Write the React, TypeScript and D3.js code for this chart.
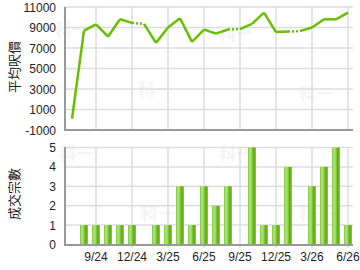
import React from "react";
import * as d3 from "d3";

const months = ["7/24","8/24","9/24","10/24","11/24","12/24","1/25","2/25","3/25","4/25","5/25","6/25","7/25","8/25","9/25","10/25","11/25","12/25","1/26","2/26","3/26","4/26","5/26","6/26"];
const avgPrice = [100,8700,9300,8100,9800,9450,9350,7500,9000,9900,7600,8800,8400,8800,8850,9350,10450,8550,8600,8650,9000,9800,9800,10450];
const deals = [0,1,1,1,1,1,0,1,1,3,1,3,2,3,0,5,1,1,4,0,3,4,5,1];
const xTickLabels = ["9/24","12/24","3/25","6/25","9/25","12/25","3/26","6/26"];
const priceTicks = [-1000,1000,3000,5000,7000,9000,11000];
const dealTicks = [0,1,2,3,4,5];

const W = 360, H = 270;
const L = 65, R = 353;

export default function App() {
  const x = d3.scalePoint<string>().domain(months).range([72, 348]);
  const yTop = d3.scaleLinear().domain([-1000, 11000]).range([130, 7]);
  const yBot = d3.scaleLinear().domain([0, 5]).range([244.5, 147.5]);
  const font = "'Liberation Sans', Arial, sans-serif";
  const cjk = "'Noto Sans CJK TC', 'Noto Sans CJK SC', sans-serif";
  const grid = "#dddddd";
  const axis = "#999999";
  const segIdx = avgPrice.slice(1).map((_, k) => k + 1);
  const segPath = (i: number) => {
    const x0 = x(months[i - 1])!, x1 = x(months[i])!;
    return `M${x0},${yTop(avgPrice[i - 1])}L${x1},${yTop(avgPrice[i])}`;
  };
  const watermarks = [[72, 36], [155, 96], [236, 40], [316, 100], [76, 160], [158, 220], [236, 160], [316, 220]];
  return (
    <svg width={W} height={H} style={{ position: "absolute", left: 0, top: 0, background: "#fff" }}>
      <defs>
        <linearGradient id="barg" x1="0" x2="1" y1="0" y2="0">
          <stop offset="0" stopColor="#7cc63a" />
          <stop offset="0.25" stopColor="#b4e682" />
          <stop offset="0.5" stopColor="#8fd24a" />
          <stop offset="0.7" stopColor="#5aab0a" />
          <stop offset="1" stopColor="#86cc40" />
        </linearGradient>
      </defs>
      {watermarks.map(([wx, wy], i) => (
        <text key={"w" + i} x={wx} y={wy} textAnchor="middle" fontFamily={cjk} fontWeight="bold" fontSize={17} fill="#f5f5f5">科一</text>
      ))}
      {priceTicks.slice(1).map(t => (
        <line key={"hg" + t} x1={L} x2={R} y1={yTop(t)} y2={yTop(t)} stroke={grid} strokeWidth={1.5} />
      ))}
      {xTickLabels.map(t => (
        <line key={"vg" + t} x1={x(t)} x2={x(t)} y1={7} y2={130} stroke={grid} strokeWidth={1.5} />
      ))}
      {dealTicks.slice(1).map(t => (
        <line key={"bhg" + t} x1={L} x2={R} y1={yBot(t)} y2={yBot(t)} stroke={grid} strokeWidth={1.5} />
      ))}
      {xTickLabels.map(t => (
        <line key={"bvg" + t} x1={x(t)} x2={x(t)} y1={147.5} y2={248} stroke={grid} strokeWidth={1.5} />
      ))}
      {deals.map((v, i) => v > 0 ? (
        <rect key={"b" + i} x={x(months[i])! - 4} y={yBot(v)} width={8} height={yBot(0) - yBot(v)} fill="url(#barg)" />
      ) : null)}
      <line x1={L} x2={L} y1={7} y2={131} stroke={axis} strokeWidth={2} />
      <line x1={L} x2={R} y1={130} y2={130} stroke={axis} strokeWidth={2} />
      <line x1={L} x2={L} y1={147} y2={246} stroke={axis} strokeWidth={2} />
      <line x1={L} x2={R} y1={245} y2={245} stroke={axis} strokeWidth={2} />
      {segIdx.map(i => (
        <path key={"s" + i} d={segPath(i)} fill="none" stroke="#66c000" strokeWidth={2.5}
          strokeDasharray={deals[i] === 0 ? "2,2" : undefined} strokeLinejoin="round" />
      ))}
      {priceTicks.map(t => (
        <text key={"pt" + t} x={56} y={yTop(t) + 4.5} textAnchor="end" fontFamily={font} fontSize={12} fill="#222">{t}</text>
      ))}
      {dealTicks.map(t => (
        <text key={"dt" + t} x={56} y={yBot(t) + 4.5} textAnchor="end" fontFamily={font} fontSize={12} fill="#222">{t}</text>
      ))}
      {xTickLabels.map(t => (
        <text key={"xt" + t} x={x(t)} y={261} textAnchor="middle" fontFamily={font} fontSize={12} fill="#222">{t}</text>
      ))}
      <text transform="translate(19,67) rotate(-90)" textAnchor="middle" fontFamily={cjk} fontSize={13} fill="#222">平均呎價</text>
      <text transform="translate(19,194) rotate(-90)" textAnchor="middle" fontFamily={cjk} fontSize={13} fill="#222">成交宗數</text>
    </svg>
  );
}
